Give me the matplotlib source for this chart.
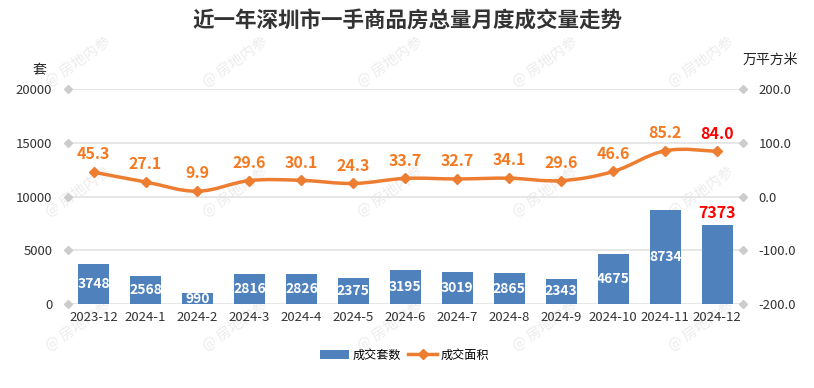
import numpy as np
import matplotlib
matplotlib.use('Agg')
import matplotlib.pyplot as plt
from matplotlib.path import Path
from matplotlib.patches import PathPatch, Patch
from matplotlib.lines import Line2D

plt.rcParams['font.family'] = ['Noto Sans CJK SC', 'DejaVu Sans']

title = '近一年深圳市一手商品房总量月度成交量走势'
months = ['2023-12', '2024-1', '2024-2', '2024-3', '2024-4', '2024-5', '2024-6',
          '2024-7', '2024-8', '2024-9', '2024-10', '2024-11', '2024-12']
units_sold = [3748, 2568, 990, 2816, 2826, 2375, 3195, 3019, 2865, 2343, 4675, 8734, 7373]
area_sold = [45.3, 27.1, 9.9, 29.6, 30.1, 24.3, 33.7, 32.7, 34.1, 29.6, 46.6, 85.2, 84.0]
left_ticks = [0, 5000, 10000, 15000, 20000]
right_ticks = [-200.0, -100.0, 0.0, 100.0, 200.0]

BAR = '#4f81bd'
LINE = '#ed7d31'
LABEL = '#f47920'
RED = '#ff0000'
GRID = '#e3e3e3'

fig = plt.figure(figsize=(8.14, 3.88), dpi=100)
ax = fig.add_axes([0.083, 0.2165, 0.83, 0.5540])
ax2 = ax.twinx()
ax.patch.set_visible(False)
ax2.patch.set_visible(False)

x = np.arange(len(months))

# faint watermark, behind everything
for wy in [0.84, 0.505, 0.16]:
    for wx in [0.096, 0.289, 0.479, 0.67, 0.862]:
        fig.text(wx, wy, '@ 房地内参', rotation=35, fontsize=10.5, color='#ececec',
                 ha='center', va='center', zorder=-5)

ax.bar(x, units_sold, width=0.6, color=BAR, zorder=2)
for i, v in enumerate(units_sold):
    if i == len(units_sold) - 1:
        ax.annotate(str(v), (i, v), xytext=(0, 3), textcoords='offset points',
                    ha='center', va='bottom', color=RED, fontsize=11.5,
                    fontweight='bold', zorder=5)
    else:
        ax.text(i, v / 2, str(v), ha='center', va='center', color='white',
                fontsize=10, fontweight='bold', zorder=5)

ax.set_ylim(0, 20000)
ax.set_xlim(-0.5, len(months) - 0.5)
ax.set_yticks(left_ticks)
ax.set_yticklabels([str(t) for t in left_ticks])
ax.grid(axis='y', color=GRID, lw=1.2)
ax.set_axisbelow(True)
ax.set_xticks(x)
ax.set_xticklabels(months)
ax.tick_params(axis='x', length=0, pad=5, labelsize=9.5, labelcolor='#333333')
ax.tick_params(axis='y', length=0, pad=11, labelsize=9.5, labelcolor='#333333')
for s in ax.spines.values():
    s.set_visible(False)

# smooth line through the monthly area values
pts = np.column_stack([x, area_sold])
verts = [pts[0]]
codes = [Path.MOVETO]
k = 0.18
for i in range(len(pts) - 1):
    p0 = pts[i - 1] if i > 0 else pts[i]
    p1 = pts[i]
    p2 = pts[i + 1]
    p3 = pts[i + 2] if i + 2 < len(pts) else pts[i + 1]
    c1 = p1 + (p2 - p0) * k
    c2 = p2 - (p3 - p1) * k
    verts += [c1, c2, p2]
    codes += [Path.CURVE4] * 3
ax2.add_patch(PathPatch(Path(verts, codes), fill=False, edgecolor=LINE, lw=2.5, zorder=3))
ax2.plot(x, area_sold, ls='none', marker='D', ms=5.5, color=LINE, zorder=4)
for i, v in enumerate(area_sold):
    c = RED if i == len(area_sold) - 1 else LABEL
    ax2.annotate(f'{v:.1f}', (i, v), xytext=(0, 7), textcoords='offset points',
                 ha='center', va='bottom', color=c, fontsize=11.5,
                 fontweight='bold', zorder=5)

ax2.set_ylim(-200, 200)
ax2.set_yticks(right_ticks)
ax2.set_yticklabels([f'{t:.1f}' for t in right_ticks])
ax2.tick_params(axis='y', length=0, pad=11, labelsize=9.5, labelcolor='#333333')
for s in ax2.spines.values():
    s.set_visible(False)

# diamond tick markers at both edges
ax.plot([0] * len(left_ticks), left_ticks, ls='none', marker='D', ms=4.5,
        color='#cccccc', transform=ax.get_yaxis_transform(), clip_on=False, zorder=3)
ax2.plot([1] * len(right_ticks), right_ticks, ls='none', marker='D', ms=4.5,
         color='#cccccc', transform=ax2.get_yaxis_transform(), clip_on=False, zorder=3)

fig.text(0.5, 0.945, title, ha='center', va='center', fontsize=15.5,
         fontweight='bold', color='#333333')
fig.text(0.049, 0.82, '套', ha='center', va='center', fontsize=10, color='#222222')
fig.text(0.946, 0.845, '万平方米', ha='center', va='center', fontsize=10, color='#222222')

handles = [Patch(facecolor=BAR, edgecolor='none'),
           Line2D([0], [0], color=LINE, lw=2.5, marker='D', ms=5.5)]
fig.legend(handles, ['成交套数', '成交面积'], loc='center', bbox_to_anchor=(0.497, 0.085),
           ncol=2, frameon=False, fontsize=8.7, handlelength=2.4, handleheight=0.7,
           columnspacing=0.6, handletextpad=0.3)

fig.savefig('out.png', dpi=100)
